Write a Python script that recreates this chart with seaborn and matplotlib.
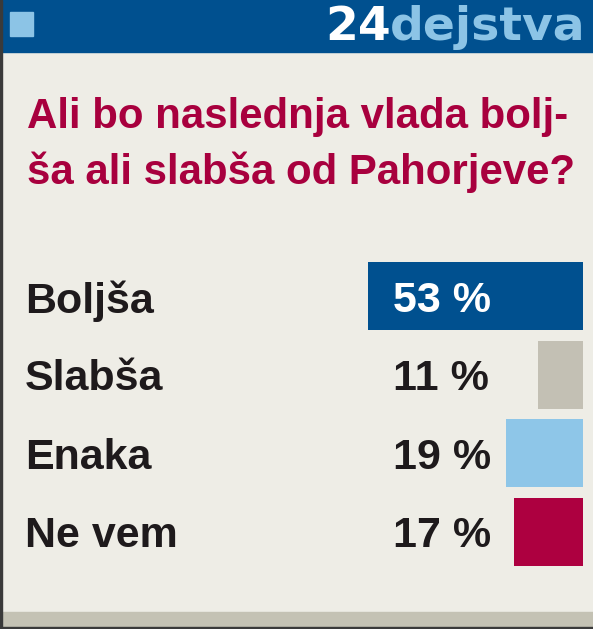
import matplotlib
matplotlib.use("Agg")
import matplotlib.pyplot as plt
import matplotlib.transforms as mtransforms
from matplotlib.patches import Rectangle
import pandas as pd
import seaborn as sns

categories = ["Boljša", "Slabša", "Enaka", "Ne vem"]
shares = [53, 11, 19, 17]
value_labels = ["53 %", "11 %", "19 %", "17 %"]
bar_colors = ["#00508f", "#c3c0b4", "#8ec6e8", "#ad0040"]
title_lines = ["Ali bo naslednja vlada bolj-", "ša ali slabša od Pahorjeve?"]

W, H = 593, 629
BG = "#eeede6"
NAVY = "#00508f"
CRIMSON = "#a8003e"
INK = "#1e1a1c"

sns.set_theme(style="white")
plt.rcParams["font.family"] = ["Liberation Sans", "DejaVu Sans"]


def fx(px):
    return px / W


def fy(py):
    return 1 - py / H


fig = plt.figure(figsize=(W / 100, H / 100), dpi=100)
fig.patch.set_facecolor(BG)
renderer = fig.canvas.get_renderer()

# header band, logo square, bottom band, left rule
fig.patches.append(Rectangle((0, fy(52)), 1, 52 / H, transform=fig.transFigure,
                             color=NAVY, zorder=0))
fig.patches.append(Rectangle((fx(10), fy(36)), 23 / W, 24 / H, transform=fig.transFigure,
                             color="#8cc4e6", zorder=1))
fig.patches.append(Rectangle((0, 0), 1, 17 / H, transform=fig.transFigure,
                             color="#c4c2b4", zorder=0))
fig.patches.append(Rectangle((0, 0), 1, 2 / H, transform=fig.transFigure,
                             color="#3a3a3a", zorder=1))
fig.patches.append(Rectangle((0, 0), 2 / W, 1, transform=fig.transFigure,
                             color="#3a3a3a", zorder=1))

logo = fig.text(fx(586), fy(40), "dejstva", color="#8cc4e6", fontsize=34,
                fontweight="heavy", family=["DejaVu Sans"], ha="right", va="baseline")
logo_left = logo.get_window_extent(renderer).x0
fig.text((logo_left + 1) / W, fy(40), "24", color="white", fontsize=34,
         fontweight="heavy", family=["DejaVu Sans"], ha="right", va="baseline")

# title: fit the first line to the reference width
title_size = 30
probe = fig.text(0, 0, title_lines[0], fontsize=title_size, fontweight="bold")
title_size *= 542 / probe.get_window_extent(renderer).width
probe.remove()
for line, base in zip(title_lines, [128, 184]):
    fig.text(fx(27), fy(base), line, color=CRIMSON, fontsize=title_size,
             fontweight="bold", ha="left", va="baseline")

# bars grow leftwards from the right edge, ~4 px per percent
ax = fig.add_axes([fx(178), fy(571), fx(583) - fx(178), (571 - 257) / H])
df = pd.DataFrame({"category": categories, "share": shares})
sns.barplot(data=df, x="share", y="category", hue="category", palette=bar_colors,
            orient="h", width=0.86, legend=False, ax=ax, saturation=1, linewidth=0)
ax.set_xlim(100, 0)
ax.set_ylim(3.5, -0.5)
ax.set_axis_off()

tr = mtransforms.blended_transform_factory(fig.transFigure, ax.transData)
for i, (cat, lab) in enumerate(zip(categories, value_labels)):
    ax.text(fx(25), i, cat, transform=tr, fontsize=31, fontweight="bold",
            color=INK, ha="left", va="center_baseline")
    ax.text(fx(393), i, lab, transform=tr, fontsize=31, fontweight="bold",
            color="white" if i == 0 else INK, ha="left", va="center_baseline")

fig.savefig("out.png", dpi=100, facecolor=BG)
